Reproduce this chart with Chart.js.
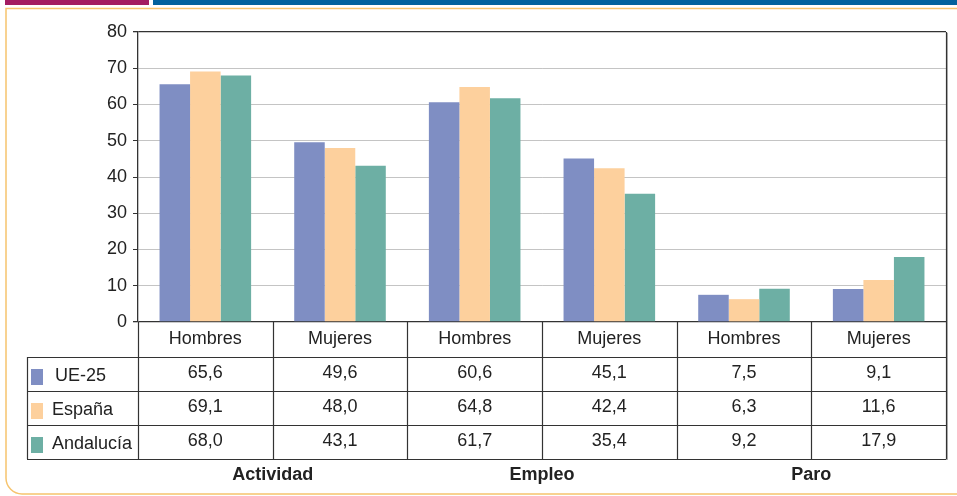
<!DOCTYPE html>
<html lang="es">
<head>
<meta charset="utf-8">
<title>Actividad, empleo y paro</title>
<script src="https://cdn.jsdelivr.net/npm/chart.js"></script>
<style>
  html, body { margin: 0; padding: 0; background: #fff; }
  #wrap { position: relative; width: 957px; height: 496px; }
</style>
</head>
<body>
<div id="wrap"><canvas id="chart" width="957" height="496"></canvas></div>
<script>
(function () {
    "use strict";

    // -----------------------------------------------------------
    //  Data
    // -----------------------------------------------------------
    var categories = ["Hombres", "Mujeres", "Hombres", "Mujeres", "Hombres", "Mujeres"];
    var groups = ["Actividad", "Empleo", "Paro"];
    var seriesNames = ["UE-25", "España", "Andalucía"];
    var ue25 = [65.6, 49.6, 60.6, 45.1, 7.5, 9.1];
    var espana = [69.1, 48.0, 64.8, 42.4, 6.3, 11.6];
    var andalucia = [68.0, 43.1, 61.7, 35.4, 9.2, 17.9];
    var yTicks = [0, 10, 20, 30, 40, 50, 60, 70, 80];

    var colors = ["#7f8ec3", "#fdd09d", "#6dafa4"];
    var seriesValues = [ue25, espana, andalucia];
    var FONT = "'Liberation Sans', Arial, sans-serif";
    var FS = 18;
    var DARK = "#333333";

    function fmt(v) {
        return v.toFixed(1).replace(".", ",");
    }

    // -----------------------------------------------------------
    //  Frame + data table drawn around the plot
    // -----------------------------------------------------------
    var framePlugin = {
        id: "frame",
        beforeDraw: function (chart) {
            var ctx = chart.ctx;
            ctx.save();
            ctx.fillStyle = "#a31c62";
            ctx.fillRect(5, 0, 144, 5);
            ctx.fillStyle = "#02629e";
            ctx.fillRect(153, 0, 804, 5);

            ctx.strokeStyle = "#f6c46e";
            ctx.lineWidth = 1.5;
            var r = 16;
            ctx.beginPath();
            ctx.moveTo(960, 8.5);
            ctx.lineTo(6, 8.5);
            ctx.lineTo(6, 494 - r);
            ctx.arcTo(6, 494, 6 + r, 494, r);
            ctx.lineTo(960, 494);
            ctx.stroke();
            ctx.restore();
        },
        afterDraw: function (chart) {
            var ctx = chart.ctx;
            var area = chart.chartArea;
            var n = categories.length;
            var colW = (area.right - area.left) / n;
            var rowH = 34;
            var headTop = area.bottom;
            var headBottom = headTop + 35;
            var tableBottom = headBottom + rowH * seriesNames.length;
            var legendLeft = 27;

            ctx.save();

            // right border of the plot
            ctx.strokeStyle = "#b5b5b5";
            ctx.lineWidth = 1;
            ctx.beginPath();
            ctx.moveTo(area.right + 1.5, area.top + 1);
            ctx.lineTo(area.right + 1.5, tableBottom + 1);
            ctx.stroke();

            ctx.strokeStyle = DARK;
            ctx.lineWidth = 1.2;
            ctx.beginPath();
            ctx.moveTo(area.right + 0.5, area.top);
            ctx.lineTo(area.right + 0.5, tableBottom);
            // column dividers
            for (var i = 0; i <= n; i++) {
                var x = Math.round(area.left + i * colW) + 0.5;
                ctx.moveTo(x, headTop);
                ctx.lineTo(x, tableBottom);
            }
            // row lines
            for (var j = 0; j <= seriesNames.length; j++) {
                var y = headBottom + j * rowH + 0.5;
                ctx.moveTo(legendLeft, y);
                ctx.lineTo(area.right + 0.5, y);
            }
            ctx.moveTo(legendLeft + 0.5, headBottom);
            ctx.lineTo(legendLeft + 0.5, tableBottom);
            ctx.stroke();

            ctx.fillStyle = "#222";
            ctx.font = FS + "px " + FONT;
            ctx.textAlign = "center";
            ctx.textBaseline = "middle";

            // category header
            categories.forEach(function (c, i) {
                var cx = area.left + (i + 0.5) * colW;
                ctx.fillText(c, cx, headTop + 17);
            });

            // legend + values
            seriesNames.forEach(function (name, s) {
                var top = headBottom + s * rowH;
                ctx.fillStyle = colors[s];
                ctx.fillRect(31, top + 12, 12, 16);
                ctx.fillStyle = "#222";
                ctx.textAlign = "left";
                ctx.fillText(name, s === 0 ? 55 : 52, top + 19);
                ctx.textAlign = "center";
                seriesValues[s].forEach(function (v, i) {
                    var cx = area.left + (i + 0.5) * colW;
                    ctx.fillText(fmt(v), cx, top + 16);
                });
            });

            // group labels
            ctx.font = "bold " + FS + "px " + FONT;
            groups.forEach(function (g, k) {
                var cx = area.left + (2 * k + 1) * colW;
                ctx.fillText(g, cx, tableBottom + 16);
            });

            ctx.restore();
        }
    };

    // -----------------------------------------------------------
    //  Chart
    // -----------------------------------------------------------
    var canvas = document.getElementById("chart");
    new Chart(canvas, {
        type: "bar",
        data: {
            labels: categories,
            datasets: seriesNames.map(function (name, s) {
                return {
                    label: name,
                    data: seriesValues[s],
                    backgroundColor: colors[s],
                    borderWidth: 0,
                    barPercentage: 1,
                    categoryPercentage: 0.68
                };
            })
        },
        options: {
            responsive: false,
            animation: false,
            layout: { padding: { left: 0, right: 11, top: 32, bottom: 0 } },
            plugins: {
                legend: { display: false },
                tooltip: { enabled: false }
            },
            scales: {
                x: {
                    ticks: { display: false },
                    grid: { display: false },
                    border: { display: false },
                    afterFit: function (scale) { scale.height = 174; }
                },
                y: {
                    min: yTicks[0],
                    max: yTicks[yTicks.length - 1],
                    afterBuildTicks: function (scale) {
                        scale.ticks = yTicks.map(function (v) { return { value: v }; });
                    },
                    ticks: {
                        padding: 6,
                        color: "#222",
                        font: { family: FONT, size: FS }
                    },
                    grid: {
                        tickLength: 5,
                        tickColor: DARK,
                        lineWidth: function (c) {
                            return c.tick && (c.tick.value === 0 || c.tick.value === 80) ? 1.3 : 1;
                        },
                        color: function (c) {
                            return c.tick && (c.tick.value === 0 || c.tick.value === 80) ? DARK : "#c4c4c4";
                        }
                    },
                    border: { color: DARK, width: 1.3 },
                    afterFit: function (scale) { scale.width = 138; }
                }
            }
        },
        plugins: [framePlugin]
    });
})();
</script>
</body>
</html>
